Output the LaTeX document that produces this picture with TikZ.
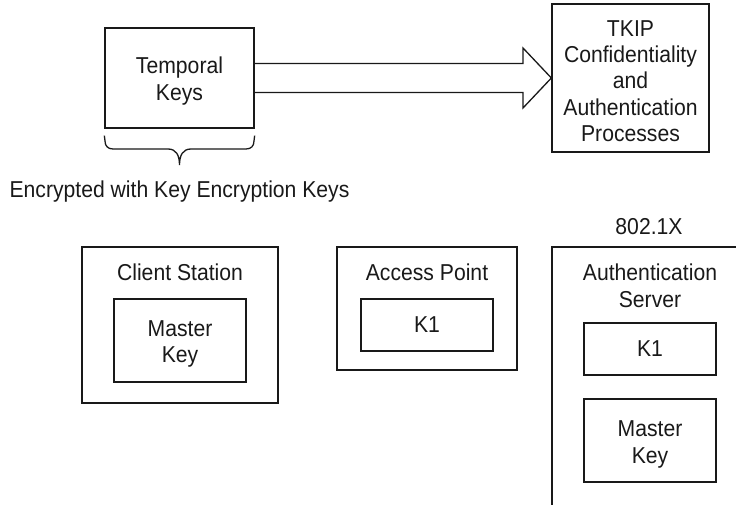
\documentclass[tikz,border=0pt]{standalone}
\usepackage{fontspec}
\setmainfont[FakeStretch=0.92]{Liberation Sans}
\begin{document}
\begin{tikzpicture}[x=1pt,y=-1pt,
  line/.style={line width=1.3pt, draw=black!90},
  txt/.style={font=\fontsize{23}{26.4}\selectfont, align=center, inner sep=0pt, text=black!90},
  box/.style={line, rectangle, txt},
]
\useasboundingbox (0,0) rectangle (736,505);
% top row
\node[box, minimum width=149, minimum height=100] (tk) at (179.5,78) {};
\node[txt, anchor=base] (tkt) at (179.5,100.3) {Temporal\\Keys};
\node[box, minimum width=157, minimum height=148] (tkip) at (630.5,78) {};
\node[txt, anchor=base] (tkipt) at (630.5,141.7) {TKIP\\Confidentiality\\and\\Authentication\\Processes};
% block arrow
\draw[line, line join=miter] ([yshift=14.5pt]tk.east) -- (523,63.5) -- (523,48) -- (tkip.west)
  -- (523,108) -- (523,92.5) -- ([yshift=-14.5pt]tk.east);
% brace
\coordinate (bl) at ([yshift=-7pt]tk.south west);
\coordinate (br) at ([yshift=-7pt]tk.south east);
\coordinate (btip) at (179.5,165);
\draw[line] (bl) -- (105,141) .. controls (105,146) and (108,149) .. (113,149)
  -- (168,149) .. controls (176,149) and (179.5,155) .. (btip)
  .. controls (179.5,155) and (183,149) .. (191,149) -- (246,149)
  .. controls (251,149) and (254,146) .. (254,141) -- (br);
\node[txt, anchor=base] (enc) at (179.5,197.3) {Encrypted with Key Encryption Keys};
% bottom row
\node[txt, anchor=base] (std) at (649,234.5) {802.1X};
\node[box, minimum width=196, minimum height=156] (cs) at (180,325) {};
\node[txt, anchor=base] (cst) at (180,280) {Client Station};
\node[box, minimum width=132, minimum height=83] (csmk) at (180,340.5) {};
\node[txt, anchor=base] (csmkt) at (180,362.5) {Master\\Key};
\node[box, minimum width=180, minimum height=123] (ap) at (427,308.5) {};
\node[txt, anchor=base] (apt) at (427,280) {Access Point};
\node[box, minimum width=132, minimum height=52] (apk) at (427,325) {K1};
\coordinate (asb) at (552,505);
\coordinate (astl) at (552,247);
\coordinate (astr) at (736,247);
\draw[line] (asb) -- (astl) -- (astr);
\node[txt, anchor=base] (ast) at (650,307) {Authentication\\Server};
\node[box, minimum width=132, minimum height=52] (ask) at (650,349) {K1};
\node[box, minimum width=132, minimum height=83] (asmk) at (650,440.5) {};
\node[txt, anchor=base] (asmkt) at (650,463) {Master\\Key};
\end{tikzpicture}
\end{document}
